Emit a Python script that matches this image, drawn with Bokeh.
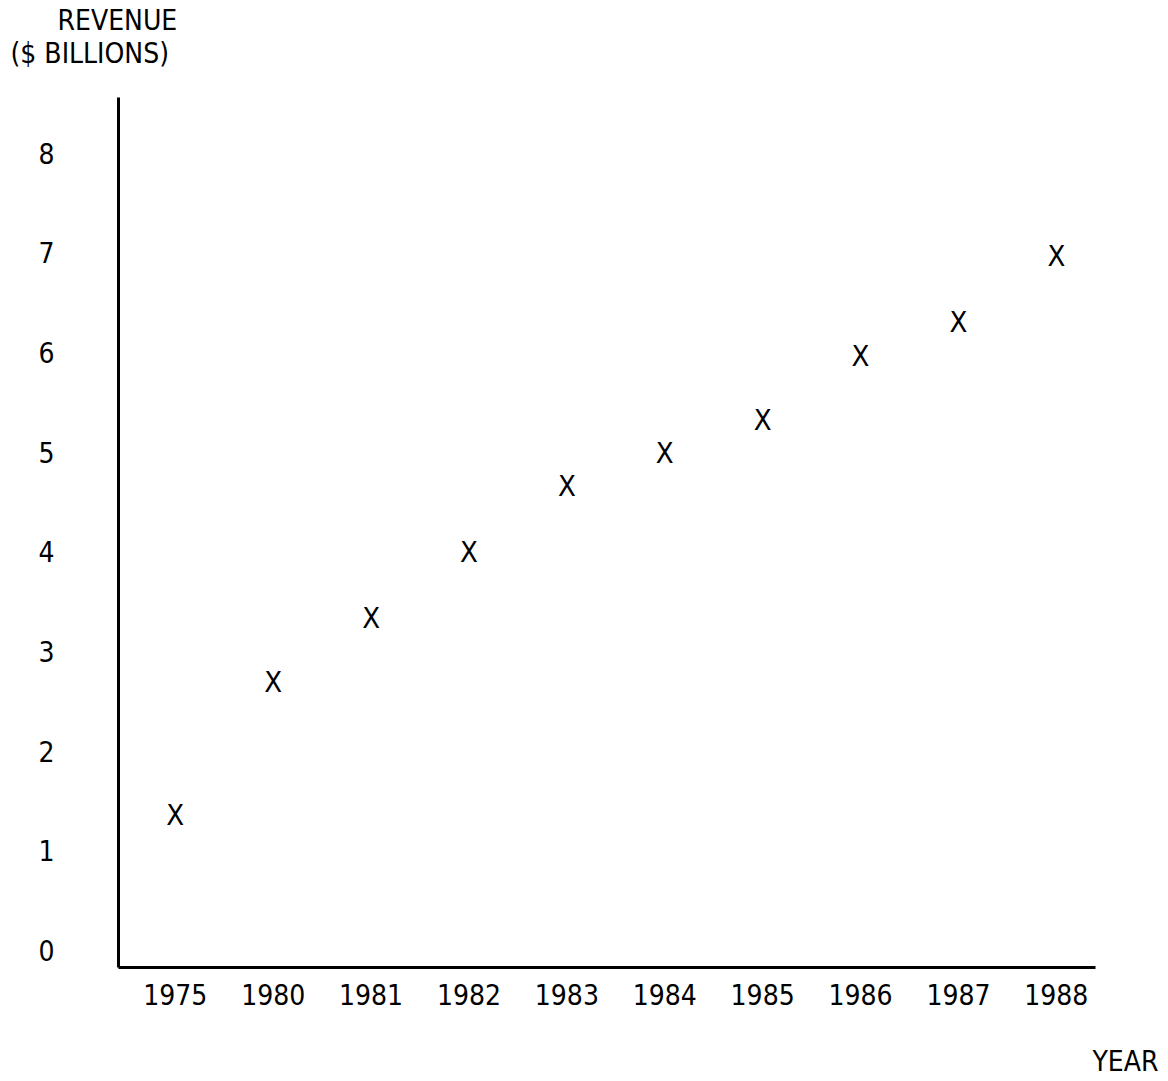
from bokeh.plotting import figure
from bokeh.models import Range1d, FixedTicker, Title, ColumnDataSource
from bokeh.core.properties import value
from bokeh.embed import file_html
from bokeh.resources import INLINE

years = ["1975", "1980", "1981", "1982", "1983", "1984", "1985", "1986", "1987", "1988"]
revenue = [1.36, 2.69, 3.34, 4.0, 4.66, 4.99, 5.32, 5.97, 6.31, 6.97]
y_ticks = [0, 1, 2, 3, 4, 5, 6, 7, 8]
y_title = ["REVENUE", "($ BILLIONS)"]
x_title = "YEAR"

FONT = "DejaVu Sans Condensed"
W, H = 1168, 1081

xpos = list(range(len(years)))
src = ColumnDataSource(dict(x=xpos, y=revenue, m=["X"] * len(years)))

p = figure(width=W, height=H, output_backend="svg", toolbar_location=None,
           x_range=Range1d(-0.58, len(years) - 1 + 0.40), y_range=Range1d(-0.17, 8.56),
           min_border_left=118, min_border_right=73, min_border_top=97, min_border_bottom=114,
           frame_width=977, frame_height=870)
p.outline_line_color = None
p.grid.visible = False
p.background_fill_color = "white"
p.border_fill_color = "white"

p.text(x="x", y="y", text="m", source=src, text_font=value(FONT), text_font_size="29px",
       text_align="center", text_baseline="middle", text_color="black")

for ax in (p.xaxis[0], p.yaxis[0]):
    ax.axis_line_width = 3
    ax.axis_line_color = "black"
    ax.major_tick_line_color = None
    ax.minor_tick_line_color = None
    ax.major_label_text_font = FONT
    ax.major_label_text_font_size = "28px"
    ax.major_label_text_color = "black"

p.xaxis.ticker = FixedTicker(ticks=xpos)
p.xaxis.major_label_overrides = {i: y for i, y in enumerate(years)}
p.xaxis.major_label_standoff = 10
p.yaxis.ticker = FixedTicker(ticks=y_ticks)
p.yaxis.major_label_standoff = 58


def spacer(gap):
    return Title(text=" ", text_font_size="1px", standoff=gap, text_color="white")


def heading(txt, align, offset, valign):
    return Title(text=txt, align=align, offset=offset, standoff=0, vertical_align=valign,
                 text_font=FONT, text_font_size="28px", text_font_style="normal",
                 text_color="black")


# above: the first added sits nearest the frame
p.add_layout(spacer(23), "above")
p.add_layout(heading(y_title[1], "left", -108, "top"), "above")
p.add_layout(heading(y_title[0], "left", -61, "bottom"), "above")

# below: x axis first, then a gap, then the YEAR caption
p.add_layout(spacer(32), "below")
p.add_layout(heading(x_title, "right", -63, "bottom"), "below")

open("out.html", "w").write(file_html(p, INLINE))
